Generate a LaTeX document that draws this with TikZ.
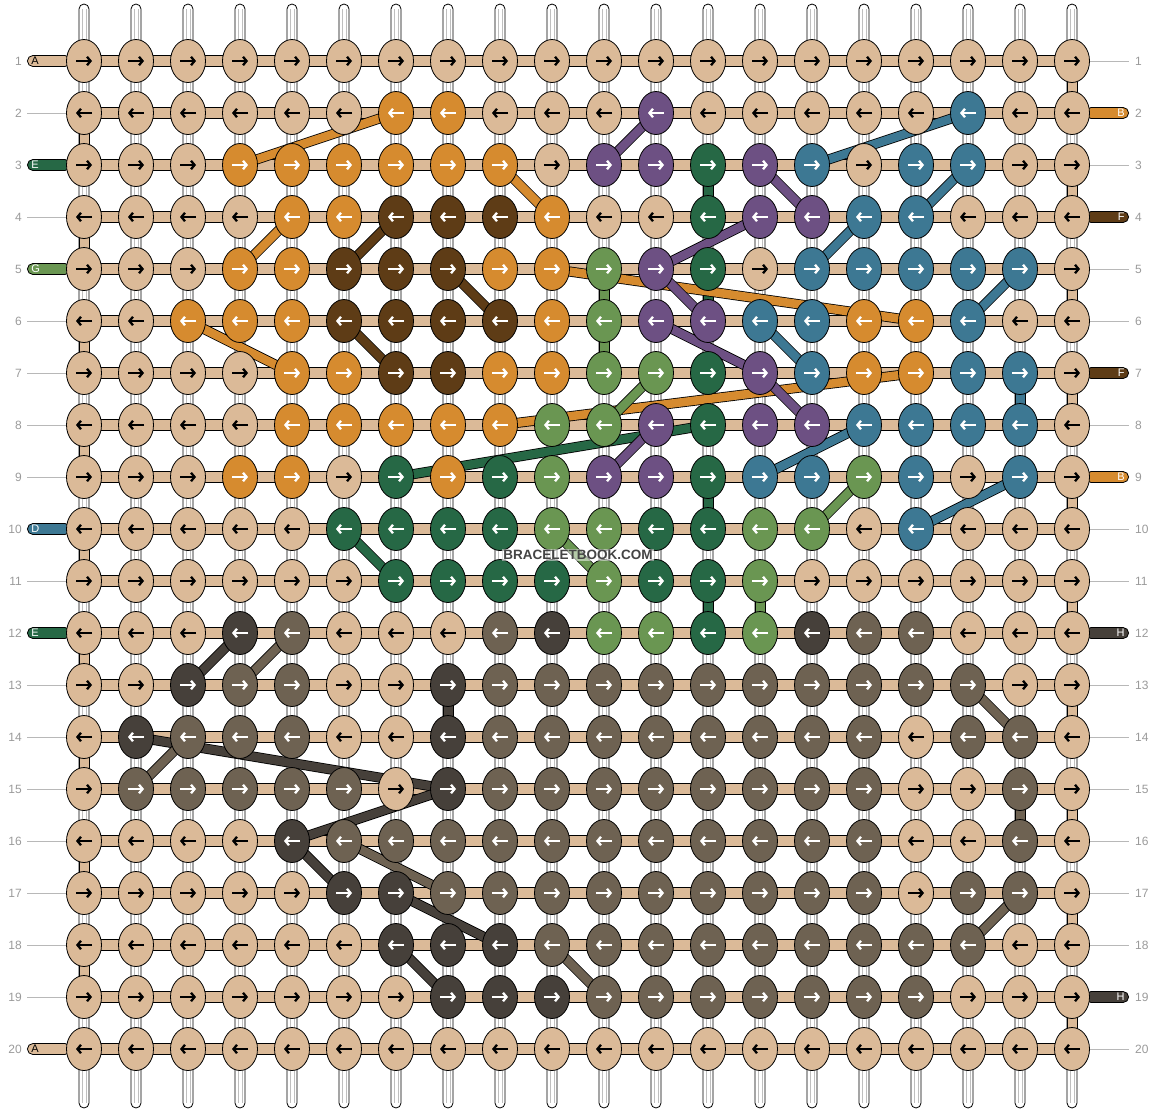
\documentclass[tikz,border=0pt]{standalone}
\usepackage{fontspec}
\setmainfont{Liberation Sans}
\usetikzlibrary{arrows.meta,shapes.geometric}

% thread colours
\definecolor{cT}{HTML}{DBBA98}
\definecolor{cO}{HTML}{D68B2F}
\definecolor{cB}{HTML}{5E3C16}
\definecolor{cP}{HTML}{6D5083}
\definecolor{cE}{HTML}{3D7893}
\definecolor{cG}{HTML}{266845}
\definecolor{cL}{HTML}{6A9652}
\definecolor{cM}{HTML}{6E6252}
\definecolor{cK}{HTML}{46403A}
\colorlet{aT}{black}
\colorlet{aO}{white}
\colorlet{aB}{white}
\colorlet{aP}{white}
\colorlet{aE}{white}
\colorlet{aG}{white}
\colorlet{aL}{white}
\colorlet{aM}{white}
\colorlet{aK}{white}
\definecolor{numgrey}{HTML}{9A9A9A}
\definecolor{wmgrey}{HTML}{444444}

\pgfdeclarelayer{strings}
\pgfdeclarelayer{strands}
\pgfsetlayers{strings,strands,main}

\begin{document}
\begin{tikzpicture}[x=1pt,y=-1pt,
    knot/.style={ellipse, draw, line width=0.8pt, inner sep=0pt, minimum width=35pt, minimum height=43pt},
    knotarrow/.style={line width=2.3pt, -{Straight Barb[length=3.5pt,width=8.5pt]}},
    strand/.style={draw=black, line width=0.8pt, double distance=8.5pt},
    tube/.style={draw, fill=white, line width=0.8pt, rounded corners=5pt},
    bar/.style={draw, fill=cT, line width=0.8pt},
    pill/.style={draw, line width=0.8pt, rounded corners=5.5pt, minimum height=11pt, minimum width=43pt,
      inner sep=0pt, text width=35pt, font=\fontsize{11}{11}\selectfont},
    rownum/.style={text=numgrey, inner sep=2pt, font=\fontsize{12}{12}\selectfont},
    guide/.style={numgrey!70, line width=0.8pt}]

\useasboundingbox (0,0) rectangle (1156,1112);

% knots, row by row
\foreach \cols [count=\rw] in {
  {T,T,T,T,T,T,T,T,T,T,T,T,T,T,T,T,T,T,T,T},
  {T,T,T,T,T,T,O,O,T,T,T,P,T,T,T,T,T,E,T,T},
  {T,T,T,O,O,O,O,O,O,T,P,P,G,P,E,T,E,E,T,T},
  {T,T,T,T,O,O,B,B,B,O,T,T,G,P,P,E,E,T,T,T},
  {T,T,T,O,O,B,B,B,O,O,L,P,G,T,E,E,E,E,E,T},
  {T,T,O,O,O,B,B,B,B,O,L,P,P,E,E,O,O,E,T,T},
  {T,T,T,T,O,O,B,B,O,O,L,L,G,P,E,O,O,E,E,T},
  {T,T,T,T,O,O,O,O,O,L,L,P,G,P,P,E,E,E,E,T},
  {T,T,T,O,O,T,G,O,G,L,P,P,G,E,E,L,E,T,E,T},
  {T,T,T,T,T,G,G,G,G,L,L,G,G,L,L,T,E,T,T,T},
  {T,T,T,T,T,T,G,G,G,G,L,G,G,L,T,T,T,T,T,T},
  {T,T,T,K,M,T,T,T,M,K,L,L,G,L,K,M,M,T,T,T},
  {T,T,K,M,M,T,T,K,M,M,M,M,M,M,M,M,M,M,T,T},
  {T,K,M,M,M,T,T,K,M,M,M,M,M,M,M,M,T,M,M,T},
  {T,M,M,M,M,M,T,K,M,M,M,M,M,M,M,M,T,T,M,T},
  {T,T,T,T,K,M,M,M,M,M,M,M,M,M,M,M,T,T,M,T},
  {T,T,T,T,T,K,K,M,M,M,M,M,M,M,M,M,T,M,M,T},
  {T,T,T,T,T,T,K,K,K,M,M,M,M,M,M,M,M,M,T,T},
  {T,T,T,T,T,T,T,K,K,K,M,M,M,M,M,M,M,T,T,T},
  {T,T,T,T,T,T,T,T,T,T,T,T,T,T,T,T,T,T,T,T}} {
  \ifodd\rw\relax \def\ax{-8}\def\bx{8}\else \def\ax{8}\def\bx{-8}\fi
  \foreach \kc [count=\cl] in \cols {
    \node[knot, fill=c\kc] (k-\rw-\cl) at ({84+52*(\cl-1)},{61+52*(\rw-1)}) {};
    \draw[knotarrow, draw=a\kc] ([xshift=\ax pt]k-\rw-\cl.center) -- ([xshift=\bx pt]k-\rw-\cl.center);
  }
}

% row numbers
\foreach \rw in {1,...,20} {
  \node[rownum, anchor=east] (nl-\rw) at (24,{61+52*(\rw-1)}) {\rw};
  \node[rownum, anchor=west] (nr-\rw) at (1133,{61+52*(\rw-1)}) {\rw};
}

\begin{pgfonlayer}{strings}
  % vertical strings
  \foreach \cl in {1,...,20} {
    \draw[tube] ({79+52*(\cl-1)},4) rectangle ({89+52*(\cl-1)},1108);
    \draw[black!25, line width=0.5pt] ({82+52*(\cl-1)},9) -- ({82+52*(\cl-1)},1103);
    \draw[black!25, line width=0.5pt] ({86+52*(\cl-1)},9) -- ({86+52*(\cl-1)},1103);
  }
  % knotting rows
  \foreach \rw in {1,...,20}
    \draw[bar] ([yshift=5.5pt]k-\rw-1.center) rectangle ([yshift=-5.5pt]k-\rw-20.center);
  % turns at the edges
  \foreach \rw in {2,4,...,18} {
    \pgfmathtruncatemacro\nx{\rw+1}
    \draw[bar] ([xshift=-5pt]k-\rw-1.center) rectangle ([xshift=5pt]k-\nx-1.center);
  }
  \foreach \rw in {1,3,...,19} {
    \pgfmathtruncatemacro\nx{\rw+1}
    \draw[bar] ([xshift=-5pt]k-\rw-20.center) rectangle ([xshift=5pt]k-\nx-20.center);
  }
  % coloured runs straight down
  \foreach \cl/\rw/\kc in {13/3/G,13/5/G,13/9/G,13/11/G,11/5/L,11/6/L,14/11/L,19/7/E,8/13/K,19/15/M} {
    \pgfmathtruncatemacro\nx{\rw+1}
    \draw[bar, fill=c\kc] ([xshift=-5pt]k-\rw-\cl.center) rectangle ([xshift=5pt]k-\nx-\cl.center);
  }
  % thread ends
  \foreach \rw/\kc/\txt/\tc in {1/T/A/black,3/G/E/white,5/L/G/white,10/E/D/white,12/G/E/white,20/T/A/black}
    \node[pill, fill=c\kc, text=\tc, align=left, anchor=west] (pl-\rw) at (27,{61+52*(\rw-1)}) {\txt};
  \foreach \rw/\kc/\txt/\tc in {2/O/B/white,4/B/F/white,7/B/F/white,9/O/B/white,12/K/H/white,19/K/H/white}
    \node[pill, fill=c\kc, text=\tc, align=right, anchor=east] (pr-\rw) at (1129,{61+52*(\rw-1)}) {\txt};
  \foreach \rw in {2,4,6,7,8,9,11,13,14,15,16,17,18,19}
    \draw[guide] ([xshift=3pt]nl-\rw.east) -- (k-\rw-1.west);
  \foreach \rw in {1,3,5,6,8,10,11,13,14,15,16,17,18,20}
    \draw[guide] (k-\rw-20.east) -- ([xshift=-4pt]nr-\rw.west);
\end{pgfonlayer}

\begin{pgfonlayer}{strands}
  \foreach \a/\b/\kc in {2-7/3-4/O,3-9/4-10/O,4-5/5-4/O,6-3/7-5/O,5-10/6-17/O,7-17/8-9/O,
      9-7/8-13/G,10-6/11-7/G,
      2-12/3-11/P,3-14/4-15/P,4-14/5-12/P,5-12/6-13/P,6-12/7-14/P,7-14/8-15/P,8-12/9-11/P,
      2-18/3-15/E,3-18/4-17/E,4-16/5-15/E,5-19/6-18/E,6-14/7-15/E,8-16/9-14/E,9-19/10-17/E,
      7-12/8-11/L,10-10/11-11/L,9-16/10-15/L,
      4-7/5-6/B,5-8/6-9/B,6-6/7-7/B,
      12-4/13-3/K,14-2/15-8/K,16-5/15-8/K,16-5/17-6/K,17-7/18-9/K,18-7/19-8/K,
      12-5/13-4/M,14-3/15-2/M,16-6/17-8/M,18-10/19-11/M,13-18/14-19/M,17-19/18-18/M}
    \draw[strand, double=c\kc] (k-\a.center) -- (k-\b.center);
\end{pgfonlayer}

\node[text=wmgrey, fill=white, fill opacity=0.5, text opacity=1, inner sep=1pt,
  font=\fontsize{13.5}{13.5}\selectfont\bfseries] (wm) at (578,555) {BRACELETBOOK.COM};

\end{tikzpicture}
\end{document}
